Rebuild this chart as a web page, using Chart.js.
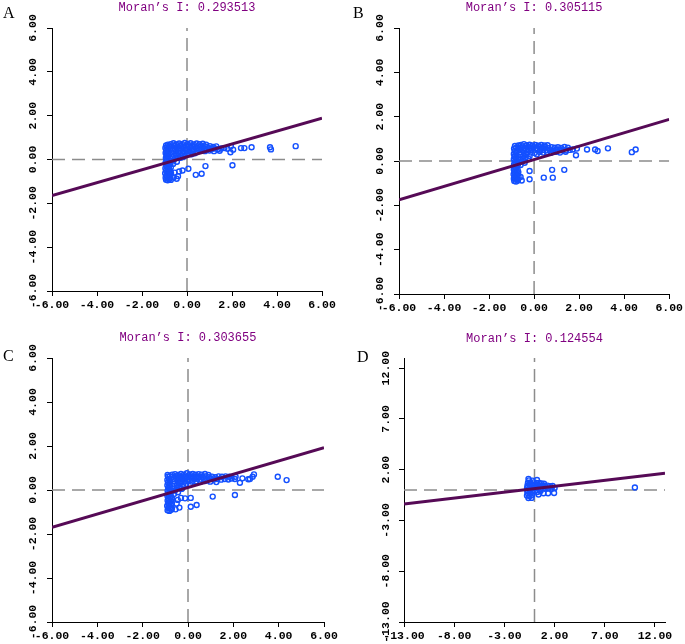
<!DOCTYPE html>
<html><head><meta charset="utf-8">
<script src="https://cdn.jsdelivr.net/npm/chart.js@4.4.1/dist/chart.umd.min.js"></script>
<style>
html,body{margin:0;padding:0;background:#fff;}
body{width:685px;height:644px;position:relative;overflow:hidden;}
canvas{position:absolute;}
.lbl{position:absolute;font-family:"Liberation Serif","Times New Roman",serif;font-size:16px;line-height:1;color:#000;}
</style></head><body>
<canvas id="cA" width="340" height="320" style="left:0px;top:0px"></canvas>
<canvas id="cB" width="345" height="320" style="left:340px;top:0px"></canvas>
<canvas id="cC" width="340" height="324" style="left:0px;top:320px"></canvas>
<canvas id="cD" width="345" height="324" style="left:340px;top:320px"></canvas>
<div class="lbl" style="left:3px;top:5px">A</div>
<div class="lbl" style="left:353px;top:5px">B</div>
<div class="lbl" style="left:3px;top:348px">C</div>
<div class="lbl" style="left:357px;top:349px">D</div>
<script>
// ---------- data ----------
const titles = ["Moran’s I: 0.293513", "Moran’s I: 0.305115", "Moran’s I: 0.303655", "Moran’s I: 0.124554"];
const ticksABC = [-6, -4, -2, 0, 2, 4, 6];
const ticksD = [-13, -8, -3, 2, 7, 12];
const rangeABC = [-6, 6];
const rangeD = [-13, 13];

const fitA = [[-6, -1.65], [6, 1.88]];
const fitB = [[-6, -1.75], [6, 1.88]];
const fitC = [[-6, -1.70], [6, 1.92]];
const fitD = [[-13, -1.38], [13, 1.64]];

const pointsA = [
[-0.93,-0.92],[-0.86,-0.95],[-0.79,-0.9],[-0.72,-0.93],[-0.95,-0.83],[-0.88,-0.81],[-0.8,-0.84],[-0.74,-0.78],[-0.91,-0.72],[-0.83,-0.7],[-0.76,-0.68],[-0.97,-0.63],[-0.87,-0.6],[-0.79,-0.58],[-0.71,-0.62],[-0.93,-0.5],[-0.84,-0.48],[-0.75,-0.52],[-0.96,-0.4],[-0.88,-0.37],[-0.8,-0.41],[-0.72,-0.36],[-0.92,-0.27],[-0.83,-0.25],[-0.74,-0.22],[-0.95,-0.15],[-0.86,-0.13],[-0.77,-0.16],[-0.9,-0.04],[-0.81,-0.02],[-0.71,-0.07],[-0.94,0.07],[-0.85,0.09],[-0.76,0.05],[-0.91,0.18],[-0.82,0.2],[-0.95,0.3],[-0.86,0.32],[-0.77,0.27],[-0.92,0.42],[-0.83,0.45],[-0.96,0.53],[-0.88,0.56],[-0.93,0.64],[-0.85,0.68],[-0.78,0.6],
[-0.72,0.7],[-0.6,0.74],[-0.48,0.69],[-0.35,0.73],[-0.22,0.7],[-0.1,0.75],[0.03,0.71],[0.16,0.74],[0.3,0.69],[0.43,0.73],[0.56,0.7],[0.7,0.72],[0.85,0.68],
[-0.7,0.6],[-0.57,0.62],[-0.44,0.58],[-0.31,0.63],[-0.18,0.59],[-0.05,0.62],[0.08,0.6],[0.21,0.63],[0.34,0.58],[0.47,0.61],[0.6,0.59],[0.74,0.62],[0.88,0.58],[1.02,0.61],[1.16,0.57],[1.3,0.6],
[-0.66,0.5],[-0.53,0.48],[-0.4,0.52],[-0.27,0.49],[-0.14,0.51],[0,0.48],[0.13,0.52],[0.26,0.49],[0.4,0.51],[0.54,0.48],[0.68,0.5],[0.82,0.47],[0.96,0.51],[1.1,0.48],[1.24,0.5],[1.38,0.47],[1.52,0.5],[1.66,0.52],[1.8,0.49],
[-0.62,0.4],[-0.48,0.38],[-0.33,0.41],[-0.18,0.37],[-0.03,0.4],[0.12,0.38],[0.28,0.41],[0.45,0.37],[0.62,0.4],[0.8,0.38],[1.0,0.41],[1.2,0.38],[1.45,0.4],[1.93,0.33],
[-0.64,0.27],[-0.5,0.22],[-0.38,0.29],[-0.24,0.2],[-0.1,0.26],[0.05,0.3],[0.2,0.24],[-0.66,0.12],[-0.52,0.06],[-0.4,0.14],[-0.28,0.08],[-0.6,-0.04],[-0.45,-0.1],[-0.15,0.12],[0.35,0.28],[-0.62,-0.2],
[2.4,0.52],[2.55,0.52],[2.87,0.56],[3.69,0.56],[3.73,0.46],[4.83,0.61],[1.95,0.6],[2.05,0.45],
[2.02,-0.26],[0.82,-0.3],[0.65,-0.65],[0.39,-0.7],[0.06,-0.42],[-0.2,-0.5],[-0.4,-0.76],[-0.46,-0.88],[-0.55,-0.6],[-0.6,-0.82],[-0.35,-0.55]
];

const pointsB = [
[-0.88,-0.9],[-0.8,-0.93],[-0.72,-0.88],[-0.9,-0.8],[-0.82,-0.78],[-0.74,-0.82],[-0.86,-0.7],[-0.77,-0.67],[-0.69,-0.72],[-0.91,-0.6],[-0.83,-0.57],[-0.75,-0.61],[-0.87,-0.48],[-0.78,-0.46],[-0.7,-0.5],[-0.9,-0.38],[-0.81,-0.35],[-0.73,-0.4],[-0.86,-0.26],[-0.77,-0.24],[-0.89,-0.15],[-0.8,-0.12],[-0.72,-0.17],[-0.85,-0.03],[-0.76,0.0],[-0.9,0.08],[-0.81,0.11],[-0.72,0.06],[-0.87,0.2],[-0.78,0.22],[-0.9,0.32],[-0.81,0.35],[-0.86,0.45],[-0.77,0.43],[-0.89,0.56],[-0.8,0.6],[-0.85,0.68],
[-0.7,0.7],[-0.58,0.72],[-0.45,0.76],[-0.33,0.71],[-0.2,0.73],[-0.07,0.7],[0.06,0.72],[0.19,0.69],[0.32,0.72],[0.46,0.7],[0.6,0.71],
[-0.68,0.6],[-0.55,0.62],[-0.42,0.58],[-0.29,0.63],[-0.16,0.6],[-0.03,0.62],[0.1,0.59],[0.23,0.62],[0.36,0.6],[0.5,0.63],[0.64,0.59],[0.78,0.62],[0.92,0.6],[1.06,0.62],[1.2,0.59],[1.35,0.63],[1.5,0.6],
[-0.64,0.5],[-0.5,0.48],[-0.37,0.52],[-0.24,0.49],[-0.11,0.51],[0.15,0.52],[0.28,0.49],[0.42,0.51],[0.56,0.48],[0.7,0.5],[0.84,0.47],[0.98,0.51],[1.12,0.49],[1.26,0.52],[1.42,0.48],[1.58,0.5],[1.72,0.52],
[-0.6,0.4],[-0.46,0.37],[-0.3,0.41],[-0.15,0.38],[0.25,0.41],[0.4,0.38],[0.58,0.4],[0.75,0.37],[0.95,0.41],[1.15,0.38],[1.4,0.42],
[-0.62,0.28],[-0.48,0.23],[-0.35,0.3],[-0.2,0.22],[0.12,0.3],[-0.64,0.12],[-0.5,0.08],[-0.38,0.15],[-0.58,-0.03],[-0.42,-0.08],[-0.6,-0.18],[-0.25,0.1],[0.02,0.36],
[1.86,0.26],[1.9,0.56],[2.35,0.52],[2.71,0.52],[2.82,0.45],[3.28,0.57],[4.34,0.4],[4.51,0.52],
[-0.2,-0.45],[-0.2,-0.82],[0.43,-0.75],[0.8,-0.4],[0.83,-0.75],[1.34,-0.4],[-0.6,-0.72],[-0.55,-0.88]
];

const pointsC = [
[-0.9,-0.92],[-0.82,-0.95],[-0.74,-0.9],[-0.87,-0.82],[-0.79,-0.8],[-0.71,-0.84],[-0.92,-0.72],[-0.84,-0.7],[-0.76,-0.68],[-0.88,-0.6],[-0.8,-0.58],[-0.72,-0.62],[-0.9,-0.48],[-0.82,-0.46],[-0.74,-0.5],[-0.87,-0.37],[-0.78,-0.35],[-0.7,-0.4],[-0.91,-0.26],[-0.83,-0.24],[-0.75,-0.28],[-0.88,-0.14],[-0.79,-0.12],[-0.9,-0.03],[-0.81,0.0],[-0.73,-0.05],[-0.87,0.1],[-0.78,0.12],[-0.91,0.22],[-0.82,0.24],[-0.88,0.34],[-0.79,0.36],[-0.91,0.46],[-0.83,0.5],[-0.88,0.6],[-0.8,0.63],[-0.9,0.68],
[-0.7,0.7],[-0.57,0.72],[-0.44,0.68],[-0.31,0.73],[-0.18,0.7],[-0.05,0.76],[0.08,0.71],[0.21,0.73],[0.34,0.69],[0.47,0.72],[0.6,0.7],[0.75,0.73],[0.9,0.68],
[-0.68,0.6],[-0.55,0.62],[-0.42,0.58],[-0.29,0.62],[-0.16,0.59],[-0.03,0.63],[0.1,0.6],[0.23,0.62],[0.36,0.58],[0.5,0.61],[0.64,0.59],[0.78,0.62],[0.92,0.58],[1.06,0.61],[1.2,0.58],[1.35,0.62],[1.5,0.6],[1.66,0.62],[1.82,0.6],
[-0.64,0.5],[-0.51,0.48],[-0.38,0.52],[-0.25,0.49],[-0.12,0.51],[0.01,0.48],[0.14,0.52],[0.28,0.49],[0.42,0.51],[0.56,0.48],[0.7,0.5],[0.85,0.47],[1.0,0.51],[1.15,0.48],[1.3,0.5],[1.46,0.47],[1.62,0.5],[1.78,0.48],[1.92,0.52],
[-0.6,0.4],[-0.45,0.37],[-0.3,0.41],[-0.15,0.38],[0.0,0.41],[0.18,0.38],[0.36,0.4],[0.55,0.37],[0.75,0.41],[0.98,0.38],[1.25,0.36],
[-0.62,0.28],[-0.48,0.23],[-0.35,0.3],[-0.22,0.22],[-0.08,0.28],[0.1,0.25],[-0.64,0.12],[-0.5,0.08],[-0.38,0.16],[-0.58,-0.03],[-0.44,-0.1],[-0.62,-0.18],[-0.28,0.05],
[2.07,0.5],[2.29,0.33],[2.4,0.53],[2.66,0.49],[2.73,0.5],[2.85,0.6],[2.91,0.71],[3.96,0.6],[4.35,0.45],[2.1,0.6],
[1.09,-0.3],[2.07,-0.23],[0.12,-0.36],[0.12,-0.76],[0.38,-0.68],[-0.31,-0.36],[-0.13,-0.38],[-0.38,-0.8],[-0.5,-0.62],[-0.55,-0.88],[-0.45,-0.45]
];

const pointsD = [
[-0.75,-0.55],[-0.5,-0.58],[-0.25,-0.52],[-0.7,-0.3],[-0.45,-0.32],[-0.2,-0.28],[-0.72,-0.05],[-0.48,-0.02],[-0.22,-0.06],[0.05,-0.1],[-0.74,0.2],[-0.5,0.22],[-0.25,0.18],[0.0,0.2],[-0.7,0.45],[-0.45,0.48],[-0.2,0.44],[0.05,0.46],[-0.65,0.72],[-0.4,0.7],[-0.1,0.75],[0.2,0.7],[-0.55,0.95],[-0.2,0.92],[0.25,0.98],[-0.6,1.1],
[0.3,0.4],[0.55,0.45],[0.8,0.42],[1.05,0.4],[1.3,0.43],[1.55,0.38],[1.8,0.4],[0.35,0.15],[0.6,0.12],[0.85,0.18],[1.1,0.14],[1.4,0.16],[1.7,0.12],[2.0,0.2],[0.45,0.7],[0.7,0.65],[0.95,0.62],[0.3,-0.2],[-0.6,-0.8],[-0.3,-0.78],[0.6,-0.1],
[0.9,-0.32],[1.35,-0.32],[1.95,-0.3],[0.4,-0.45],[10.0,0.25]
];

// ---------- layout / style (not data) ----------
const panels = [
  {id:'cA', title:titles[0], points:pointsA, fit:fitA, ticks:ticksABC, range:rangeABC,
   pad:{left:12,right:18,top:0,bottom:7}, titlePad:{top:0.8,bottom:12.8}, yPad:-3},
  {id:'cB', title:titles[1], points:pointsB, fit:fitB, ticks:ticksABC, range:rangeABC,
   pad:{left:19,right:15,top:0,bottom:4}, titlePad:{top:0.8,bottom:12.8}, yPad:-3},
  {id:'cC', title:titles[2], points:pointsC, fit:fitC, ticks:ticksABC, range:rangeABC,
   pad:{left:12,right:16,top:0,bottom:0}, titlePad:{top:10.8,bottom:12.8}, yPad:-3},
  {id:'cD', title:titles[3], points:pointsD, fit:fitD, ticks:ticksD, range:rangeD,
   pad:{left:24,right:20,top:0,bottom:0}, titlePad:{top:11.8,bottom:11.8}, yPad:-8}
];

const tickFont = {family:'"Liberation Mono", "DejaVu Sans Mono", monospace', size:11.5, weight:'bold'};
const toXY = a => a.map(p => ({x:p[0], y:p[1]}));

function axis(p, isY) {
  return {
    type:'linear', min:p.range[0], max:p.range[1],
    afterFit: s => { if (isY) s.width = 40; else s.height = 22; },
    afterBuildTicks: s => { s.ticks = p.ticks.map(v => ({value:v})); },
    grid:{display:true, drawOnChartArea:false, drawTicks:true, tickLength:5, color:'#000', lineWidth:1},
    border:{display:true, color:'#000', width:1},
    ticks: isY ? {autoSkip:false, minRotation:90, maxRotation:90, crossAlign:'center', padding:p.yPad, color:'#000', font:tickFont, callback:v => Number(v).toFixed(2)}
               : {autoSkip:false, minRotation:0, maxRotation:0, padding:2, color:'#000', font:tickFont, callback:v => Number(v).toFixed(2)}
  };
}

panels.forEach(p => {
  const dash = {type:'line', borderColor:'#8c8c8c', borderWidth:1.5, borderDash:[13,7], pointRadius:0, fill:false};
  new Chart(document.getElementById(p.id), {
    type:'scatter',
    data:{datasets:[
      {type:'line', data:toXY(p.fit), borderColor:'#560a56', borderWidth:3, pointRadius:0, fill:false},
      {type:'scatter', data:toXY(p.points), pointRadius:2.5, pointBorderWidth:1.4, pointBorderColor:'#1450ff', pointBackgroundColor:'rgba(0,0,0,0)'},
      Object.assign({data:[{x:0,y:p.range[0]},{x:0,y:p.range[1]}]}, dash),
      Object.assign({data:[{x:p.range[0],y:0},{x:p.range[1],y:0}]}, dash)
    ]},
    options:{
      responsive:false, animation:false, events:[],
      layout:{padding:p.pad},
      plugins:{
        legend:{display:false}, tooltip:{enabled:false},
        title:{display:true, text:p.title, fullSize:false, color:'#800080', padding:p.titlePad,
               font:{family:'"Liberation Mono", "DejaVu Sans Mono", monospace', size:12, weight:'normal', lineHeight:1.2}}
      },
      scales:{ x:axis(p,false), y:axis(p,true) }
    }
  });
});
</script>
</body></html>
